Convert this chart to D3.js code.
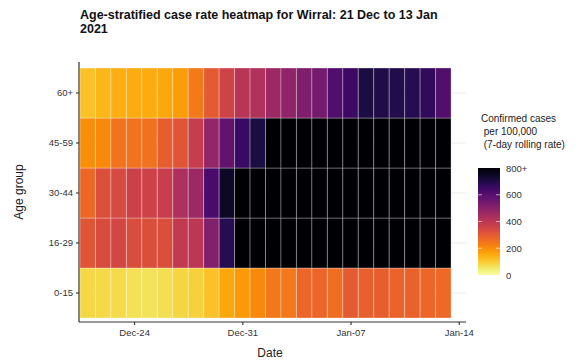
<!DOCTYPE html>
<html>
<head>
<meta charset="utf-8">
<script src="https://cdn.jsdelivr.net/npm/d3@7"></script>
<style>
  body { margin: 0; background: #fff; }
  svg { display: block; font-family: "Liberation Sans", Arial, sans-serif; }
</style>
</head>
<body>
<svg id="chart" width="583" height="362"></svg>
<script>
// ---- data ----
const startDate = "2020-12-21";
const ageGroups = ["0-15", "16-29", "30-44", "45-59", "60+"];
const rate_0_15  = [80, 78, 72, 65, 62, 68, 82, 88, 115, 155, 180, 208, 238, 240, 272, 272, 258, 298, 285, 290, 280, 282, 275, 266];
const rate_16_29 = [310, 332, 348, 330, 328, 328, 385, 400, 515, 690, 900, 950, 980, 1000, 1020, 1040, 1050, 1060, 1050, 1040, 1030, 1020, 1000, 980];
const rate_30_44 = [270, 325, 340, 365, 360, 370, 430, 462, 625, 745, 880, 940, 980, 1000, 1020, 1040, 1050, 1060, 1050, 1040, 1030, 1020, 1000, 980];
const rate_45_59 = [200, 208, 250, 250, 252, 290, 310, 378, 480, 580, 655, 710, 850, 900, 930, 960, 980, 990, 980, 970, 960, 950, 940, 920];
const rate_60p   = [115, 132, 145, 150, 150, 155, 172, 235, 300, 358, 405, 420, 460, 490, 520, 540, 610, 650, 710, 700, 695, 690, 670, 610];
const seriesByAge = { "0-15": rate_0_15, "16-29": rate_16_29, "30-44": rate_30_44, "45-59": rate_45_59, "60+": rate_60p };
const xTickDates = ["2020-12-24", "2020-12-31", "2021-01-07", "2021-01-14"];
const xTickLabels = ["Dec-24", "Dec-31", "Jan-07", "Jan-14"];
const legendTicks = [0, 200, 400, 600, 800];
const legendTickLabels = ["0", "200", "400", "600", "800+"];
const capValue = 800;

// ---- build ----
const parse = d3.utcParse("%Y-%m-%d");
const DAY = 86400000;
const d0 = parse(startDate);
const cells = [];
ageGroups.forEach(g => {
  seriesByAge[g].forEach((v, i) => {
    cells.push({ age: g, date: new Date(d0.getTime() + i * DAY), value: v });
  });
});

const svg = d3.select("#chart");
const panel = { left: 79, right: 466, top: 62, bottom: 322 };

const x = d3.scaleUtc()
  .domain([new Date(d0.getTime() - 0.5 * DAY), new Date(d0.getTime() + 24.5 * DAY)])
  .range([80, 466.5]);
const y = d3.scaleBand()
  .domain(ageGroups.slice().reverse())
  .range([68, 318])
  .paddingInner(0);
const color = v => d3.interpolateInferno(1 - Math.min(v, capValue) / capValue);

// gridlines
svg.append("g").selectAll("line")
  .data(ageGroups)
  .join("line")
  .attr("x1", panel.left).attr("x2", panel.right)
  .attr("y1", d => y(d) + y.bandwidth() / 2)
  .attr("y2", d => y(d) + y.bandwidth() / 2)
  .attr("stroke", "#ebebe6").attr("stroke-width", 1);

// tiles
svg.append("g").selectAll("rect")
  .data(cells)
  .join("rect")
  .attr("x", d => x(new Date(d.date.getTime() - 0.5 * DAY)))
  .attr("width", d => x(new Date(d.date.getTime() + 0.5 * DAY)) - x(new Date(d.date.getTime() - 0.5 * DAY)))
  .attr("y", d => y(d.age))
  .attr("height", y.bandwidth())
  .attr("fill", d => color(d.value))
  .attr("stroke", "rgba(255,255,255,0.3)")
  .attr("stroke-width", 1);

// axes
const xAxis = d3.axisBottom(x)
  .tickValues(xTickDates.map(parse))
  .tickFormat((d, i) => xTickLabels[i])
  .tickSize(3).tickPadding(4);
const gx = svg.append("g").attr("transform", `translate(0,${panel.bottom})`).call(xAxis);
gx.select(".domain").attr("d", `M${panel.left},0H${panel.right}`).attr("stroke", "#333").attr("stroke-width", 1.2);
gx.selectAll(".tick line").attr("stroke", "#333").attr("stroke-width", 1.1);
gx.selectAll(".tick text").attr("fill", "#333").attr("font-size", "9.5px").attr("font-family", "Liberation Sans, Arial, sans-serif");

const yAxis = d3.axisLeft(y).tickSize(3).tickPadding(3);
const gy = svg.append("g").attr("transform", `translate(${panel.left},0)`).call(yAxis);
gy.select(".domain").attr("d", `M0,${panel.top}V${panel.bottom}`).attr("stroke", "#333").attr("stroke-width", 1.2);
gy.selectAll(".tick line").attr("stroke", "#333").attr("stroke-width", 1.1);
gy.selectAll(".tick text").attr("fill", "#333").attr("font-size", "9.5px").attr("font-family", "Liberation Sans, Arial, sans-serif");

// axis titles
svg.append("text").attr("x", 270).attr("y", 357).attr("text-anchor", "middle")
  .attr("font-size", "12px").attr("fill", "#222").text("Date");
svg.append("text").attr("transform", "translate(23,192) rotate(-90)").attr("text-anchor", "middle")
  .attr("font-size", "12px").attr("fill", "#222").text("Age group");

// title
const title = svg.append("text").attr("x", 80).attr("font-weight", "bold").attr("font-size", "12.5px").attr("fill", "#111");
title.append("tspan").attr("x", 80).attr("y", 19).text("Age-stratified case rate heatmap for Wirral: 21 Dec to 13 Jan");
title.append("tspan").attr("x", 80).attr("y", 33).text("2021");

// legend
const lg = svg.append("g");
const ltitle = lg.append("text").attr("font-size", "10px").attr("fill", "#222");
ltitle.append("tspan").attr("x", 481).attr("y", 122).text("Confirmed cases");
ltitle.append("tspan").attr("x", 481).attr("y", 135).text("\u00a0per 100,000");
ltitle.append("tspan").attr("x", 481).attr("y", 148).text("\u00a0(7-day rolling rate)");

const ly = d3.scaleLinear().domain([0, capValue]).range([275, 168]);
const defs = svg.append("defs");
const grad = defs.append("linearGradient").attr("id", "lgrad").attr("x1", 0).attr("y1", 1).attr("x2", 0).attr("y2", 0);
d3.range(0, 1.0001, 0.05).forEach(t => {
  grad.append("stop").attr("offset", t).attr("stop-color", color(t * capValue));
});
lg.append("rect").attr("x", 478).attr("y", ly(capValue)).attr("width", 22)
  .attr("height", ly(0) - ly(capValue)).attr("fill", "url(#lgrad)");
lg.selectAll("line.lt").data(legendTicks.slice(1, -1)).join("line")
  .attr("class", "lt")
  .attr("x1", 478).attr("x2", 482).attr("y1", d => ly(d)).attr("y2", d => ly(d))
  .attr("stroke", "rgba(255,255,255,0.6)");
lg.selectAll("line.rt").data(legendTicks.slice(1, -1)).join("line")
  .attr("class", "rt")
  .attr("x1", 496).attr("x2", 500).attr("y1", d => ly(d)).attr("y2", d => ly(d))
  .attr("stroke", "rgba(255,255,255,0.6)");
lg.selectAll("text.ll").data(legendTicks).join("text")
  .attr("class", "ll")
  .attr("x", 506).attr("y", d => ly(d) + 3.5)
  .attr("font-size", "9.5px").attr("fill", "#333")
  .text((d, i) => legendTickLabels[i]);
</script>
</body>
</html>
